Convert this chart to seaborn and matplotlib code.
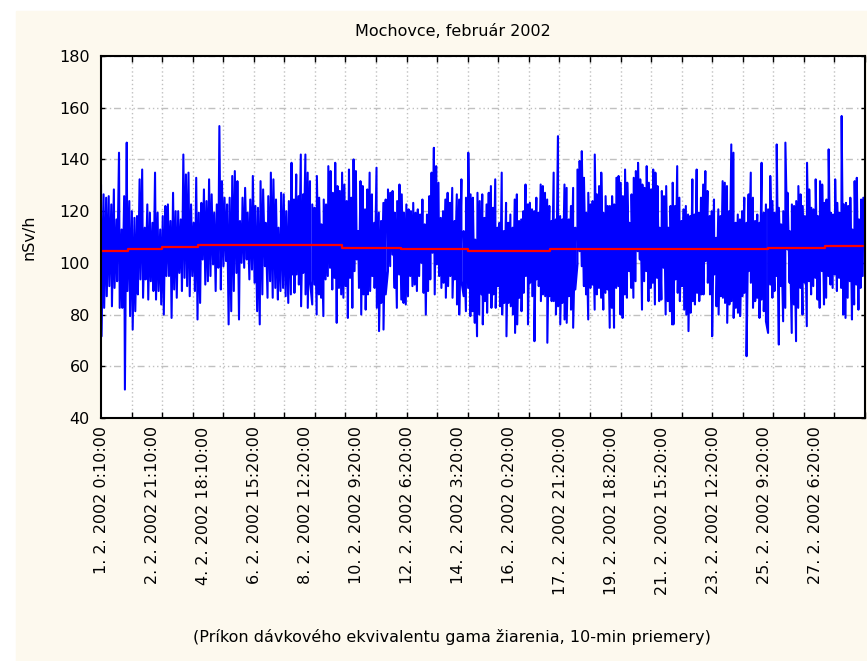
import numpy as np
import pandas as pd
import matplotlib
matplotlib.use('Agg')
import matplotlib.pyplot as plt
from matplotlib.patches import Rectangle
import seaborn as sns

# 10-min dose rate averages (nSv/h), upper and lower peaks read week by week
week1_hi = [130.3, 126.5, 125.2, 125.8, 122.6, 128.4, 116.8, 142.6, 112.9, 125.8, 146.5, 123.9, 120.0, 117.4, 118.1,
            132.3, 136.1, 113.6, 122.6, 119.4, 115.5, 134.9, 119.4, 112.9, 118.1, 122.0, 122.6, 116.2, 127.1, 120.0,
            120.0, 116.8, 141.9, 134.2, 134.9, 122.6, 115.5, 132.9, 119.4, 123.2, 128.4, 123.9, 132.3, 126.5, 119.4,
            122.6, 152.9, 131.6, 125.2, 122.6, 125.2, 133.6, 135.5, 131.6, 116.2, 125.2, 129.0, 119.4, 124.5, 133.6,
            122.0, 121.3, 131.6, 128.4, 115.5, 125.8, 134.9, 132.3, 124.5, 113.6, 127.1, 126.5, 120.0, 123.9, 138.7]
week1_lo = [71.6, 82.6, 87.1, 91.0, 83.2, 90.3, 92.9, 82.6, 82.6, 51.0, 89.1, 79.4, 74.2, 81.3, 87.8, 93.6, 86.5,
            93.6, 85.8, 92.9, 89.1, 85.8, 89.1, 83.9, 80.0, 94.9, 94.9, 78.7, 89.7, 86.5, 96.1, 89.1, 94.2, 91.0,
            87.1, 94.9, 89.1, 78.1, 84.5, 101.3, 91.6, 92.9, 94.9, 99.4, 89.1, 98.1, 89.7, 98.7, 100.7, 76.2, 81.3,
            89.1, 96.1, 78.1, 100.0, 98.1, 101.3, 93.6, 97.4, 92.3, 81.3, 76.2, 87.8, 98.7, 86.5, 92.9, 86.5, 90.3,
            85.8, 89.1, 90.3, 87.1, 84.5, 87.8]
week2_hi = [138.7, 124.5, 134.2, 125.8, 141.9, 126.5, 141.9, 134.9, 131.6, 122.6, 121.3, 133.6, 125.2, 114.9, 124.5,
            122.6, 137.4, 135.5, 127.1, 138.7, 129.7, 127.8, 134.9, 130.3, 123.9, 136.1, 125.2, 140.0, 135.5, 112.3,
            131.6, 129.7, 120.7, 128.4, 134.9, 126.5, 115.5, 136.8, 119.4, 116.2, 123.2, 124.5, 128.4, 127.1, 127.8,
            119.4, 123.9, 130.3, 126.5, 119.4, 122.6, 120.7, 120.0, 123.2, 119.4, 120.7, 118.7, 124.5, 114.9, 118.7,
            125.8, 134.9, 144.5, 137.4, 131.0, 117.4, 120.0, 124.5, 127.1, 123.2, 129.0, 116.2, 126.5, 124.5, 132.3,
            112.3, 125.2, 142.6, 126.5, 125.2, 109.0, 127.1, 123.9, 122.0]
week2_lo = [95.5, 88.4, 95.5, 91.6, 83.2, 96.1, 87.8, 82.6, 92.9, 83.9, 91.6, 80.0, 87.8, 86.5, 79.4, 93.6, 94.9,
            98.1, 89.7, 94.2, 76.8, 90.3, 87.8, 86.5, 91.0, 78.7, 94.2, 82.6, 96.8, 101.3, 90.3, 80.0, 87.8, 81.9,
            87.8, 89.1, 94.9, 90.3, 82.6, 73.6, 84.5, 74.2, 87.8, 96.8, 98.7, 103.2, 90.3, 82.6, 95.5, 85.8, 84.5,
            83.9, 87.1, 94.9, 91.0, 91.6, 89.1, 94.9, 100.0, 88.4, 80.0, 89.1, 93.6, 103.9, 87.8, 99.4, 94.9, 90.3,
            92.3, 86.5, 91.0, 94.9, 86.5, 93.6, 83.9, 80.0, 92.9, 87.1, 81.3, 90.3, 79.4, 81.3, 76.8, 71.6, 80.0, 87.8]
week3_hi = [126.5, 117.4, 122.6, 127.1, 129.7, 121.3, 132.3, 113.6, 115.5, 134.9, 112.3, 123.2, 115.5, 118.7, 113.6,
            124.5, 126.5, 116.2, 116.8, 120.0, 130.3, 122.6, 123.2, 120.7, 120.0, 125.2, 119.4, 130.3, 129.7, 127.1,
            124.5, 122.0, 116.2, 134.9, 116.8, 149.0, 118.1, 116.8, 130.3, 129.0, 116.8, 122.0, 129.0, 113.6, 136.1,
            139.4, 143.2, 132.9, 119.4, 127.1, 122.6, 123.9, 141.9, 126.5, 129.7, 134.9, 119.4, 125.8, 122.0, 122.0,
            125.8, 122.6, 132.9, 133.6, 131.0, 125.8, 136.1, 131.0, 115.5, 126.5, 132.9, 135.5, 138.7, 132.3, 130.3,
            129.0, 137.4, 131.0, 128.4, 136.1, 134.9, 129.7, 113.6, 127.8, 125.8, 129.7, 113.6, 122.0, 131.0]
week3_lo = [76.2, 85.2, 80.7, 88.4, 82.6, 87.8, 82.6, 91.0, 83.2, 80.0, 84.5, 71.6, 84.5, 83.2, 80.0, 72.9, 76.2,
            86.5, 81.3, 88.4, 94.9, 76.2, 92.3, 87.1, 69.7, 93.6, 91.0, 85.2, 87.8, 87.1, 69.1, 87.1, 85.2, 85.2,
            80.0, 83.2, 76.2, 84.5, 78.1, 76.8, 87.1, 81.9, 74.9, 89.7, 99.4, 104.5, 98.7, 91.0, 87.8, 78.1, 90.3,
            91.6, 81.9, 87.8, 90.3, 86.5, 81.9, 88.4, 89.7, 74.9, 82.6, 74.9, 90.3, 91.0, 80.0, 78.7, 87.8, 86.5,
            96.8, 90.3, 86.5, 92.9, 104.5, 101.3, 81.9, 92.9, 96.8, 85.2, 90.3, 92.3, 83.9, 94.2, 85.2, 85.8, 98.1,
            80.0, 85.2, 81.3, 76.2]
week4_hi = [130.3, 122.0, 137.4, 125.2, 116.2, 120.7, 122.0, 118.7, 118.1, 132.3, 118.7, 136.1, 119.4, 125.2, 130.3,
            135.5, 127.8, 118.1, 120.0, 124.5, 109.7, 120.7, 118.1, 131.6, 131.0, 129.7, 120.0, 145.8, 142.6, 115.5,
            118.7, 116.8, 120.0, 125.2, 115.5, 126.5, 134.9, 125.2, 116.2, 118.7, 115.5, 138.7, 119.4, 122.6, 120.7,
            133.6, 123.9, 119.4, 145.8, 121.3, 114.9, 120.0, 146.5, 127.1, 112.3, 122.6, 122.0, 123.9, 129.7, 126.5,
            122.0, 118.1, 138.7, 128.4, 121.3, 120.7, 132.3, 118.1, 131.6, 130.3, 123.2, 124.5, 143.9, 119.4, 118.7,
            132.3, 123.2, 119.4, 156.8, 122.6, 123.2, 122.0, 125.2, 112.9, 131.6, 132.9, 116.8, 124.5, 125.2]
week4_lo = [76.2, 93.6, 88.4, 85.2, 91.0, 81.9, 80.0, 73.6, 80.7, 85.2, 83.9, 88.4, 85.2, 87.8, 87.8, 100.7, 92.3,
            87.8, 71.6, 95.5, 83.2, 80.0, 87.1, 86.5, 84.5, 76.8, 83.9, 85.2, 78.7, 82.6, 80.7, 79.4, 87.1, 88.4,
            63.9, 96.8, 92.3, 82.6, 85.2, 86.5, 78.7, 85.8, 81.3, 77.4, 72.9, 91.6, 86.5, 89.1, 94.9, 68.4, 91.0,
            77.4, 82.6, 105.2, 92.3, 72.9, 83.9, 69.7, 82.6, 90.3, 80.0, 92.3, 75.5, 92.9, 87.8, 91.0, 94.2, 85.8,
            82.6, 96.8, 83.9, 86.5, 94.9, 91.6, 90.3, 95.5, 89.1, 94.2, 90.3, 80.0, 78.7, 86.5, 92.9, 78.1, 83.9,
            91.6, 81.9, 90.3, 94.9]

# running mean (red line): sample index where each level starts
mean_start = [0, 142, 322, 512, 1277, 1589, 1942, 2375, 3525, 3831]
mean_level = [104.5, 105.2, 106.1, 106.9, 105.8, 105.2, 104.5, 105.2, 105.8, 106.7]

tick_labels = ['1. 2. 2002 0:10:00', '2. 2. 2002 21:10:00', '4. 2. 2002 18:10:00', '6. 2. 2002 15:20:00',
               '8. 2. 2002 12:20:00', '10. 2. 2002 9:20:00', '12. 2. 2002 6:20:00', '14. 2. 2002 3:20:00',
               '16. 2. 2002 0:20:00', '17. 2. 2002 21:20:00', '19. 2. 2002 18:20:00', '21. 2. 2002 15:20:00',
               '23. 2. 2002 12:20:00', '25. 2. 2002 9:20:00', '27. 2. 2002 6:20:00']
label_step = 270
n_samples = 4032
week_len = 1008

# put the peaks of each week on the sample axis
t, v = [], []
weeks = [(week1_hi, week1_lo), (week2_hi, week2_lo), (week3_hi, week3_lo), (week4_hi, week4_lo)]
for w, (hi, lo) in enumerate(weeks):
    s = w * week_len
    t += list(np.linspace(s, s + week_len - 1, len(hi)))
    v += hi
    t += list(np.linspace(s + 3, s + week_len - 4, len(lo)))
    v += lo
df = pd.DataFrame({'t': t, 'v': v}).sort_values('t')
df_mean = pd.DataFrame({'t': mean_start + [n_samples], 'v': mean_level + [mean_level[-1]]})

sns.set_style('white')
plt.rcParams['font.family'] = ['DejaVu Sans']
plt.rcParams['text.color'] = 'black'
plt.rcParams['xtick.color'] = 'black'
plt.rcParams['ytick.color'] = 'black'
plt.rcParams['axes.labelcolor'] = 'black'
fs = 11.5

fig = plt.figure(figsize=(8.67, 6.61), dpi=100, facecolor='white')
fig.patches.append(Rectangle((16 / 867, 0), 1, 1 - 11 / 661, transform=fig.transFigure,
                             color='#FDF9EE', zorder=-1))
ax = fig.add_axes([101 / 867, 1 - 418 / 661, 764 / 867, 362 / 661])
ax.set_facecolor('white')

sns.lineplot(data=df, x='t', y='v', estimator=None, sort=False, color='#0000FF', lw=1.5, ax=ax)
sns.lineplot(data=df_mean, x='t', y='v', estimator=None, sort=False, color='#FF0000', lw=1.6,
             drawstyle='steps-post', ax=ax)

ax.set_xlim(0, 4040)
ax.set_ylim(40, 180)
ax.set_yticks(range(40, 181, 20))
ax.set_xticks(np.arange(len(tick_labels)) * label_step)
ax.set_xticklabels(tick_labels, rotation=90, va='top', ha='center', fontsize=fs)
ax.set_xticks(np.linspace(0, 4040, 26), minor=True)
ax.tick_params(axis='x', which='major', length=0, pad=6)
ax.tick_params(axis='x', which='minor', direction='in', length=4, width=1, top=True, bottom=True, color='black')
ax.tick_params(axis='y', direction='in', length=3, width=1, left=True, right=True, labelsize=fs, pad=8,
               color='black')

ax.set_axisbelow(True)
ax.xaxis.grid(True, which='minor', color='#c0c0c0', linestyle=(0, (1, 2)), lw=1)
ax.yaxis.grid(True, which='major', color='#c0c0c0', linestyle=(0, (1, 2, 1, 2, 1, 2, 5, 3)), lw=1)
ax.xaxis.grid(False, which='major')

for sp in ax.spines.values():
    sp.set_color('black')
    sp.set_linewidth(1.5)

ax.set_xlabel('')
ax.set_ylabel('nSv/h', fontsize=fs)
ax.yaxis.set_label_coords(-(101 - 37) / 764, 0.5)

fig.text(453 / 867, 1 - 32 / 661, 'Mochovce, február 2002', ha='center', va='center', fontsize=fs)
fig.text(452 / 867, 1 - 637 / 661, '(Príkon dávkového ekvivalentu gama žiarenia, 10-min priemery)',
         ha='center', va='center', fontsize=fs)

fig.savefig('out.png', dpi=100, facecolor=fig.get_facecolor())
